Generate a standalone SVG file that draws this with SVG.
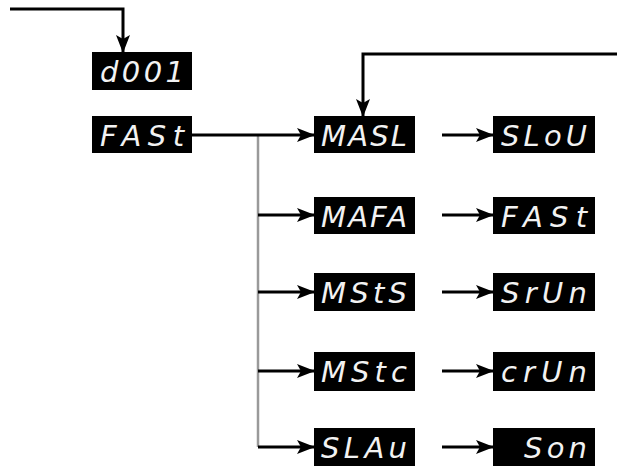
<svg xmlns="http://www.w3.org/2000/svg" width="617" height="466" viewBox="0 0 617 466">
<style>
.box{fill:#000}
.t{font-family:"DejaVu Sans",sans-serif;font-style:italic;font-size:29px;fill:#f2f2f2}
.ln{stroke:#000;stroke-width:3;fill:none}
.gr{stroke:#9a9a9a;stroke-width:2.5;fill:none}
</style>
<defs>
<marker id="ah" viewBox="0 0 18 14" refX="17" refY="7" markerWidth="18" markerHeight="14" markerUnits="userSpaceOnUse" orient="auto">
<path d="M0,0 L18,7 L0,14 L4,7 Z" fill="#000"/>
</marker>
</defs>
<rect width="617" height="466" fill="#fff"/>
<g id="connectors">
<path class="ln" d="M10,9 H123 V52" marker-end="url(#ah)"/>
<path class="ln" d="M617,54 H363 V116" marker-end="url(#ah)"/>
<path class="gr" d="M258,135 V447"/>
<path class="ln" d="M192,135 H314" marker-end="url(#ah)"/>
<path class="ln" d="M258,215 H314" marker-end="url(#ah)"/>
<path class="ln" d="M258,292 H314" marker-end="url(#ah)"/>
<path class="ln" d="M258,371 H314" marker-end="url(#ah)"/>
<path class="ln" d="M258,447 H314" marker-end="url(#ah)"/>
<path class="ln" d="M442,135 H493" marker-end="url(#ah)"/>
<path class="ln" d="M442,215 H493" marker-end="url(#ah)"/>
<path class="ln" d="M442,292 H493" marker-end="url(#ah)"/>
<path class="ln" d="M442,371 H493" marker-end="url(#ah)"/>
<path class="ln" d="M442,447 H493" marker-end="url(#ah)"/>
</g>
<g id="n-d001"><rect class="box" x="92" y="52" width="100" height="38"/><text class="t" x="100" y="82" textLength="84" lengthAdjust="spacing">d001</text></g>
<g id="n-fast"><rect class="box" x="92" y="116" width="100" height="37"/><text class="t" x="100" y="146" textLength="84" lengthAdjust="spacing">FASt</text></g>
<g id="n-masl"><rect class="box" x="314" y="116" width="101" height="37"/><text class="t" x="321" y="146" textLength="86" lengthAdjust="spacing">MASL</text></g>
<g id="n-slou"><rect class="box" x="493" y="116" width="102" height="37"/><text class="t" x="501" y="146" textLength="86" lengthAdjust="spacing">SLoU</text></g>
<g id="n-mafa"><rect class="box" x="314" y="197" width="101" height="37"/><text class="t" x="321" y="227" textLength="86" lengthAdjust="spacing">MAFA</text></g>
<g id="n-fast2"><rect class="box" x="493" y="197" width="102" height="37"/><text class="t" x="501" y="227" textLength="86" lengthAdjust="spacing">FASt</text></g>
<g id="n-msts"><rect class="box" x="314" y="273" width="101" height="38"/><text class="t" x="321" y="303" textLength="86" lengthAdjust="spacing">MStS</text></g>
<g id="n-srun"><rect class="box" x="493" y="273" width="102" height="38"/><text class="t" x="501" y="303" textLength="86" lengthAdjust="spacing">SrUn</text></g>
<g id="n-mstc"><rect class="box" x="314" y="352" width="101" height="39"/><text class="t" x="321" y="382" textLength="86" lengthAdjust="spacing">MStc</text></g>
<g id="n-crun"><rect class="box" x="493" y="352" width="102" height="39"/><text class="t" x="501" y="382" textLength="86" lengthAdjust="spacing">crUn</text></g>
<g id="n-slau"><rect class="box" x="314" y="428" width="101" height="38"/><text class="t" x="321" y="458" textLength="86" lengthAdjust="spacing">SLAu</text></g>
<g id="n-son"><rect class="box" x="493" y="428" width="102" height="38"/><text class="t" x="524" y="458" textLength="63" lengthAdjust="spacing">Son</text></g>
</svg>
